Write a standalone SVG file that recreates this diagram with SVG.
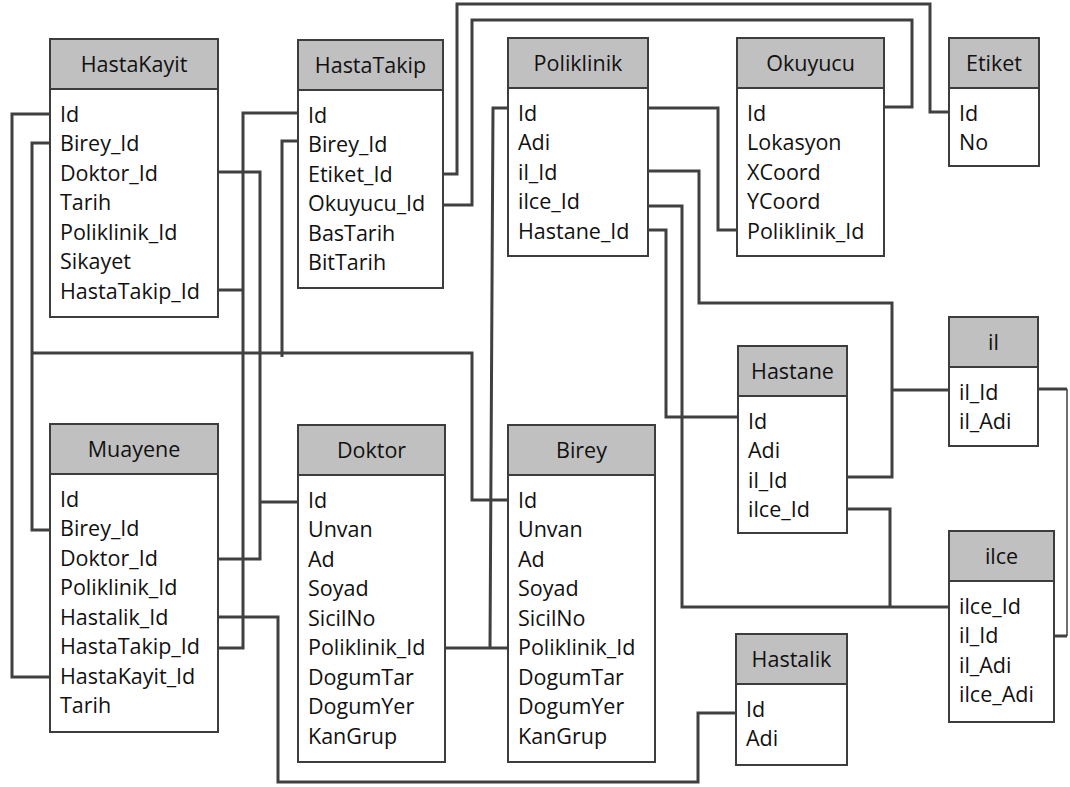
<svg xmlns="http://www.w3.org/2000/svg" width="1070" height="787" viewBox="0 0 1070 787">
  <style>
    .box { fill: #ffffff; stroke: #3d3d3d; stroke-width: 2; }
    .hdr { fill: #c0c0c0; stroke: #3d3d3d; stroke-width: 2; }
    .title { font-family: "Open Sans", "Liberation Sans", sans-serif; font-size: 21.5px; fill: #111; text-anchor: middle; }
    .row { font-family: "Open Sans", "Liberation Sans", sans-serif; font-size: 21.5px; fill: #111; }
    .wire { fill: none; stroke: #404040; stroke-width: 3; stroke-linejoin: miter; }
    .thin { fill: none; stroke: #404040; stroke-width: 1.5; }
  </style>
  <rect width="1070" height="787" fill="#ffffff"/>

  <!-- Tables: each group is translated to its top-left corner; header band is 50px tall, rows every 29.5px -->
  <g id="HastaKayit" transform="translate(50,39)">
    <rect class="box" width="168" height="278"/>
    <rect class="hdr" width="168" height="50"/>
    <text class="title" x="84" y="32.5">HastaKayit</text>
    <text class="row" x="10" y="82.5">Id</text>
    <text class="row" x="10" y="112">Birey_Id</text>
    <text class="row" x="10" y="141.5">Doktor_Id</text>
    <text class="row" x="10" y="171">Tarih</text>
    <text class="row" x="10" y="200.5">Poliklinik_Id</text>
    <text class="row" x="10" y="230">Sikayet</text>
    <text class="row" x="10" y="259.5">HastaTakip_Id</text>
  </g>

  <g id="HastaTakip" transform="translate(298,40)">
    <rect class="box" width="145" height="248"/>
    <rect class="hdr" width="145" height="50"/>
    <text class="title" x="72.5" y="32.5">HastaTakip</text>
    <text class="row" x="10" y="82.5">Id</text>
    <text class="row" x="10" y="112">Birey_Id</text>
    <text class="row" x="10" y="141.5">Etiket_Id</text>
    <text class="row" x="10" y="171">Okuyucu_Id</text>
    <text class="row" x="10" y="200.5">BasTarih</text>
    <text class="row" x="10" y="230">BitTarih</text>
  </g>

  <g id="Poliklinik" transform="translate(508,38)">
    <rect class="box" width="140" height="218"/>
    <rect class="hdr" width="140" height="50"/>
    <text class="title" x="70" y="32.5">Poliklinik</text>
    <text class="row" x="10" y="82.5">Id</text>
    <text class="row" x="10" y="112">Adi</text>
    <text class="row" x="10" y="141.5">il_Id</text>
    <text class="row" x="10" y="171">ilce_Id</text>
    <text class="row" x="10" y="200.5">Hastane_Id</text>
  </g>

  <g id="Okuyucu" transform="translate(737,38)">
    <rect class="box" width="147" height="218"/>
    <rect class="hdr" width="147" height="50"/>
    <text class="title" x="73.5" y="32.5">Okuyucu</text>
    <text class="row" x="10" y="82.5">Id</text>
    <text class="row" x="10" y="112">Lokasyon</text>
    <text class="row" x="10" y="141.5">XCoord</text>
    <text class="row" x="10" y="171">YCoord</text>
    <text class="row" x="10" y="200.5">Poliklinik_Id</text>
  </g>

  <g id="Etiket" transform="translate(949,38)">
    <rect class="box" width="90" height="128"/>
    <rect class="hdr" width="90" height="50"/>
    <text class="title" x="45" y="32.5">Etiket</text>
    <text class="row" x="10" y="82.5">Id</text>
    <text class="row" x="10" y="112">No</text>
  </g>

  <g id="Hastane" transform="translate(738,346)">
    <rect class="box" width="109" height="187"/>
    <rect class="hdr" width="109" height="50"/>
    <text class="title" x="54.5" y="32.5">Hastane</text>
    <text class="row" x="10" y="82.5">Id</text>
    <text class="row" x="10" y="112">Adi</text>
    <text class="row" x="10" y="141.5">il_Id</text>
    <text class="row" x="10" y="171">ilce_Id</text>
  </g>

  <g id="il" transform="translate(949,317)">
    <rect class="box" width="89" height="129"/>
    <rect class="hdr" width="89" height="50"/>
    <text class="title" x="44.5" y="32.5">il</text>
    <text class="row" x="10" y="82.5">il_Id</text>
    <text class="row" x="10" y="112">il_Adi</text>
  </g>

  <g id="ilce" transform="translate(949,531)">
    <rect class="box" width="105" height="191"/>
    <rect class="hdr" width="105" height="50"/>
    <text class="title" x="52.5" y="32.5">ilce</text>
    <text class="row" x="10" y="82.5">ilce_Id</text>
    <text class="row" x="10" y="112">il_Id</text>
    <text class="row" x="10" y="141.5">il_Adi</text>
    <text class="row" x="10" y="171">ilce_Adi</text>
  </g>

  <g id="Hastalik" transform="translate(736,634)">
    <rect class="box" width="111" height="131"/>
    <rect class="hdr" width="111" height="50"/>
    <text class="title" x="55.5" y="32.5">Hastalik</text>
    <text class="row" x="10" y="82.5">Id</text>
    <text class="row" x="10" y="112">Adi</text>
  </g>

  <g id="Muayene" transform="translate(50,424)">
    <rect class="box" width="168" height="308"/>
    <rect class="hdr" width="168" height="50"/>
    <text class="title" x="84" y="32.5">Muayene</text>
    <text class="row" x="10" y="82.5">Id</text>
    <text class="row" x="10" y="112">Birey_Id</text>
    <text class="row" x="10" y="141.5">Doktor_Id</text>
    <text class="row" x="10" y="171">Poliklinik_Id</text>
    <text class="row" x="10" y="200.5">Hastalik_Id</text>
    <text class="row" x="10" y="230">HastaTakip_Id</text>
    <text class="row" x="10" y="259.5">HastaKayit_Id</text>
    <text class="row" x="10" y="289">Tarih</text>
  </g>

  <g id="Doktor" transform="translate(298,425)">
    <rect class="box" width="147" height="337"/>
    <rect class="hdr" width="147" height="50"/>
    <text class="title" x="73.5" y="32.5">Doktor</text>
    <text class="row" x="10" y="82.5">Id</text>
    <text class="row" x="10" y="112">Unvan</text>
    <text class="row" x="10" y="141.5">Ad</text>
    <text class="row" x="10" y="171">Soyad</text>
    <text class="row" x="10" y="200.5">SicilNo</text>
    <text class="row" x="10" y="230">Poliklinik_Id</text>
    <text class="row" x="10" y="259.5">DogumTar</text>
    <text class="row" x="10" y="289">DogumYer</text>
    <text class="row" x="10" y="318.5">KanGrup</text>
  </g>

  <g id="Birey" transform="translate(508,425)">
    <rect class="box" width="147" height="337"/>
    <rect class="hdr" width="147" height="50"/>
    <text class="title" x="73.5" y="32.5">Birey</text>
    <text class="row" x="10" y="82.5">Id</text>
    <text class="row" x="10" y="112">Unvan</text>
    <text class="row" x="10" y="141.5">Ad</text>
    <text class="row" x="10" y="171">Soyad</text>
    <text class="row" x="10" y="200.5">SicilNo</text>
    <text class="row" x="10" y="230">Poliklinik_Id</text>
    <text class="row" x="10" y="259.5">DogumTar</text>
    <text class="row" x="10" y="289">DogumYer</text>
    <text class="row" x="10" y="318.5">KanGrup</text>
  </g>

  <!-- Relationship lines (orthogonal, no arrowheads) -->
  <g id="connectors">
    <!-- HastaKayit.Id - Muayene.HastaKayit_Id -->
    <path class="wire" d="M50,114 H12 V677 H50"/>
    <!-- Birey.Id - HastaKayit / Muayene / HastaTakip Birey_Id -->
    <path class="wire" d="M50,143 H32 V530 H50"/>
    <path class="wire" d="M32,353 H472 V500 H508"/>
    <path class="wire" d="M298,141 H282 V357"/>
    <!-- Doktor.Id - HastaKayit / Muayene Doktor_Id -->
    <path class="wire" d="M218,172 H260 V559 H218"/>
    <path class="wire" d="M260,502 H298"/>
    <!-- HastaTakip.Id - HastaKayit / Muayene HastaTakip_Id -->
    <path class="wire" d="M298,113 H243 V648 H218"/>
    <path class="wire" d="M218,290 H243"/>
    <!-- Hastalik.Id - Muayene.Hastalik_Id -->
    <path class="wire" d="M218,617 H278 V782 H698 V713 H736"/>
    <!-- Poliklinik.Id - Doktor / Birey Poliklinik_Id -->
    <path class="wire" d="M508,108 H493 L490,648"/>
    <path class="wire" d="M445,648 H508"/>
    <!-- Etiket.Id - HastaTakip.Etiket_Id -->
    <path class="wire" d="M443,174 H457 V4 H930 V112 H949"/>
    <!-- Okuyucu.Id - HastaTakip.Okuyucu_Id -->
    <path class="wire" d="M443,205 H472 V20 H912 V107 H884"/>
    <!-- Poliklinik.Id - Okuyucu.Poliklinik_Id -->
    <path class="wire" d="M648,108 H718 V230 H737"/>
    <!-- il.il_Id - Poliklinik / Hastane il_Id -->
    <path class="wire" d="M648,171 H699 V303 H892 V477 H847"/>
    <path class="wire" d="M892,390 H949"/>
    <!-- ilce.ilce_Id - Poliklinik / Hastane ilce_Id -->
    <path class="wire" d="M648,206 H682 V607 H949"/>
    <path class="wire" d="M846,509 H890 V607"/>
    <!-- Hastane.Id - Poliklinik.Hastane_Id -->
    <path class="wire" d="M648,230 H666 V417 H738"/>
    <!-- il.il_Id - ilce.il_Id -->
    <path class="wire" d="M1038,389 H1067"/>
    <path class="thin" d="M1067,389 V636"/>
    <path class="wire" d="M1067,636 H1053"/>
  </g>
</svg>
